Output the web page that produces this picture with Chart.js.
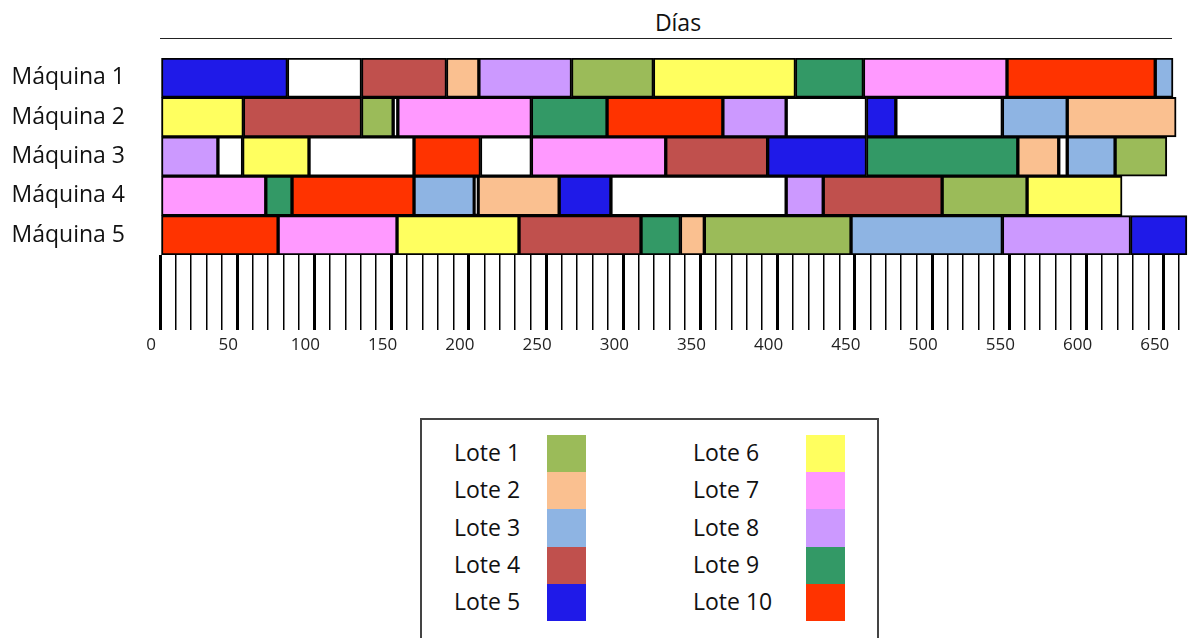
<!DOCTYPE html>
<html>
<head>
<meta charset="utf-8">
<script src="https://cdn.jsdelivr.net/npm/chart.js@4"></script>
<style>
  body { margin: 0; background: #fff; font-family: 'Open Sans', sans-serif; color: #111; }
  #wrap { position: relative; width: 1192px; height: 638px; overflow: hidden; }
  #title { position: absolute; left: 160px; top: 0; width: 1012px; height: 38px; border-bottom: 1.5px solid #222; }
  #title span { position: absolute; left: 0; width: 100%; top: 11px; text-align: center; padding-left: 24px; box-sizing: border-box; font-size: 23px; line-height: 23px; }
  #chartBox { position: absolute; left: 0; top: 0; width: 1192px; height: 370px; }
  #legendBox { position: absolute; left: 420px; top: 418px; width: 455px; height: 240px; border: 2px solid #444; }
  .lt { position: absolute; font-size: 23px; line-height: 23px; white-space: nowrap; }
  .sw { position: absolute; width: 39px; height: 37.4px; }
</style>
</head>
<body>
<div id="wrap">
  <div id="title"><span>Días</span></div>
  <div id="chartBox"><canvas id="gantt"></canvas></div>
  <div id="legendBox"></div>
</div>
<script>
// Gantt de lotes por máquina (días)
const machines = ['Máquina 1', 'Máquina 2', 'Máquina 3', 'Máquina 4', 'Máquina 5'];
const lotes = ['Lote 1', 'Lote 2', 'Lote 3', 'Lote 4', 'Lote 5', 'Lote 6', 'Lote 7', 'Lote 8', 'Lote 9', 'Lote 10'];

// [inicio, fin] por máquina (M1..M5)
const lote1  = [[266.5, 319.5], [130.5, 151],   [618.5, 652],   [506.5, 561.5], [352.5, 447.5]];
const lote2  = [[185.5, 206.5], [587.5, 658],   [555.5, 582],   [206, 258.5],   [337, 352.5]];
const lote3  = [[644.5, 656],   [545.5, 587.5], [587.5, 618.5], [164.5, 203.5], [447.5, 545.5]];
const lote4  = [[130.5, 185.5], [54, 130.5],    [327.5, 393.5], [429.5, 506.5], [232.5, 311.5]];
const lote5  = [[0, 82.5],      [457.5, 476.5], [393.5, 457.5], [258.5, 292],   [628.5, 665]];
const lote6  = [[319.5, 411.5], [0, 54],        [53.5, 96.5],   [561.5, 623],   [153.5, 232.5]];
const lote7  = [[455.5, 548.5], [154, 240.5],   [240.5, 327.5], [0, 68.5],      [76.5, 153.5]];
const lote8  = [[206.5, 266.5], [364.5, 405.5], [0, 37.5],      [405.5, 429.5], [545.5, 628.5]];
const lote9  = [[411.5, 455.5], [240.5, 289.5], [457.5, 555.5], [68.5, 85.5],   [311.5, 337]];
const lote10 = [[548.5, 644.5], [289.5, 364.5], [164.5, 207.5], [85.5, 164.5],  [0, 76.5]];

// tiempos libres (máquina, inicio, fin)
const idle = [
    ['Máquina 1', 82.5, 130.5],
    ['Máquina 2', 151, 154], ['Máquina 2', 405.5, 457.5], ['Máquina 2', 476.5, 545.5],
    ['Máquina 3', 37.5, 53.5], ['Máquina 3', 96.5, 164.5], ['Máquina 3', 207.5, 240.5], ['Máquina 3', 582, 587.5],
    ['Máquina 4', 203.5, 206], ['Máquina 4', 292, 405.5],
];

const loteColors = ['#9BBB59', '#FAC090', '#8EB4E3', '#C0504D', '#1F1AE8',
                    '#FFFF5F', '#FF99FF', '#CC99FF', '#339966', '#FF3300'];

const spans = [lote1, lote2, lote3, lote4, lote5, lote6, lote7, lote8, lote9, lote10];

const barStyle = {
    borderColor: '#000',
    borderWidth: 2,
    borderSkipped: false,
    grouped: false,
    categoryPercentage: 1,
    barPercentage: 1,
};

const datasets = lotes.map((name, i) => ({
    label: name,
    data: spans[i].map((r, m) => ({ x: r, y: machines[m] })),
    backgroundColor: loteColors[i],
    ...barStyle,
}));
datasets.push({
    label: 'Libre',
    data: idle.map(([m, a, b]) => ({ x: [a, b], y: m })),
    backgroundColor: '#fff',
    ...barStyle,
});

Chart.defaults.font.family = "'Open Sans', sans-serif";

new Chart(document.getElementById('gantt'), {
    type: 'bar',
    data: { labels: machines, datasets },
    options: {
        indexAxis: 'y',
        responsive: true,
        maintainAspectRatio: false,
        animation: false,
        layout: { padding: { top: 58, bottom: 15, left: 0, right: 2 } },
        scales: {
            x: {
                type: 'linear',
                min: 0,
                max: 667,
                border: { display: false },
                grid: {
                    drawOnChartArea: false,
                    drawTicks: true,
                    tickLength: 75,
                    color: '#000',
                    lineWidth: c => (c.tick && c.tick.value % 50 === 0 ? 3 : 1.5),
                },
                ticks: {
                    stepSize: 10,
                    autoSkip: false,
                    includeBounds: false,
                    maxRotation: 0,
                    padding: 5,
                    labelOffset: -9,
                    color: '#222',
                    font: { size: 17 },
                    callback: v => (v % 50 === 0 ? v : ''),
                },
                afterFit: s => { s.height = 100; },
            },
            y: {
                type: 'category',
                grid: { display: false },
                border: { display: false },
                ticks: { padding: 27, color: '#111', font: { size: 23 } },
                afterFit: s => { s.width = 160; },
            },
        },
        plugins: { legend: { display: false }, tooltip: { enabled: false } },
    },
});

// leyenda en dos columnas
const wrap = document.getElementById('wrap');
lotes.forEach((name, i) => {
    const col = i < 5 ? 0 : 1, row = i % 5;
    const t = document.createElement('div');
    t.className = 'lt';
    t.textContent = name;
    t.style.left = (col ? 693 : 454) + 'px';
    t.style.top = (441.3 + row * 37.1) + 'px';
    wrap.appendChild(t);
    const s = document.createElement('div');
    s.className = 'sw';
    s.style.background = loteColors[i];
    s.style.left = (col ? 806 : 547) + 'px';
    s.style.top = (434.5 + row * 37.4) + 'px';
    wrap.appendChild(s);
});
</script>
</body>
</html>
